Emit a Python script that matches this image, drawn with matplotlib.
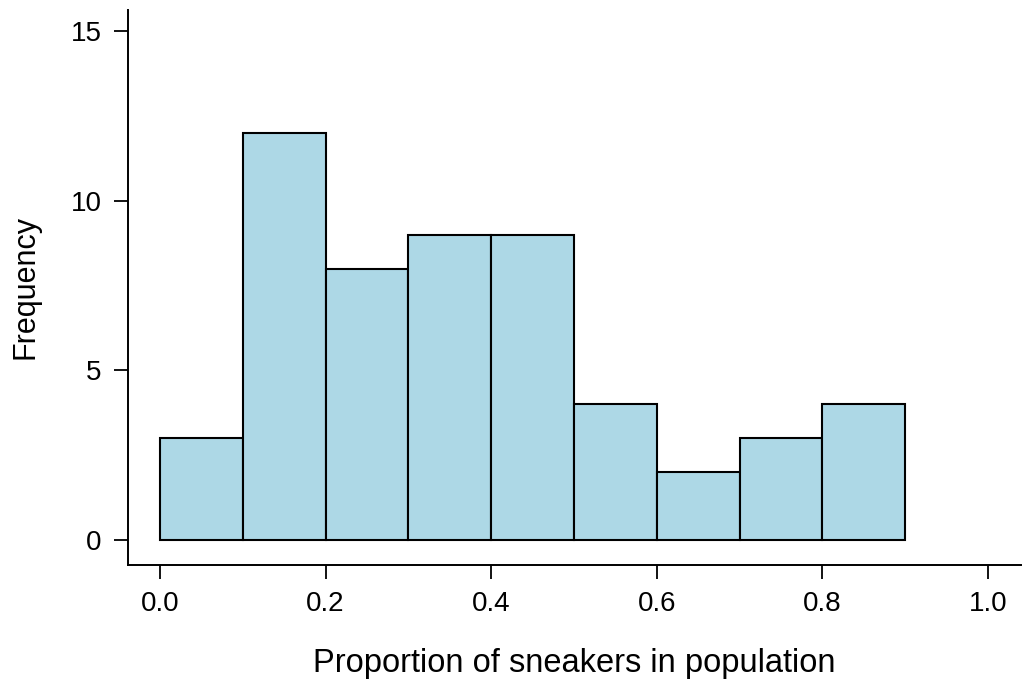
import matplotlib.pyplot as plt
import numpy as np

# histogram bins and counts
bin_edges = [0.0, 0.1, 0.2, 0.3, 0.4, 0.5, 0.6, 0.7, 0.8, 0.9]
counts = [3, 12, 8, 9, 9, 4, 2, 3, 4]
x_ticks = [0.0, 0.2, 0.4, 0.6, 0.8, 1.0]
x_tick_labels = ["0.0", "0.2", "0.4", "0.6", "0.8", "1.0"]
y_ticks = [0, 5, 10, 15]

plt.rcParams["font.family"] = ["Liberation Sans", "DejaVu Sans"]

fig = plt.figure(figsize=(10.31, 6.84), dpi=100)
ax = fig.add_axes([0.1242, 0.174, 0.8661, 0.8114])

ax.bar(bin_edges[:-1], counts, width=np.diff(bin_edges), align="edge",
       color="#ADD8E6", edgecolor="black", linewidth=1.5)

ax.set_xlim(-0.0386, 1.0399)
ax.set_ylim(-0.737, 15.62)

ax.spines["top"].set_visible(False)
ax.spines["right"].set_visible(False)
for s in ("left", "bottom"):
    ax.spines[s].set_linewidth(1.4)

ax.set_xticks(x_ticks)
ax.set_xticklabels(x_tick_labels)
ax.set_yticks(y_ticks)
ax.tick_params(axis="both", labelsize=20, length=10, width=1.3, pad=9)

ax.set_xlabel("Proportion of sneakers in population", fontsize=23.5, labelpad=22)
ax.set_ylabel("Frequency", fontsize=22, labelpad=22)

fig.savefig("out.png", dpi=100)
